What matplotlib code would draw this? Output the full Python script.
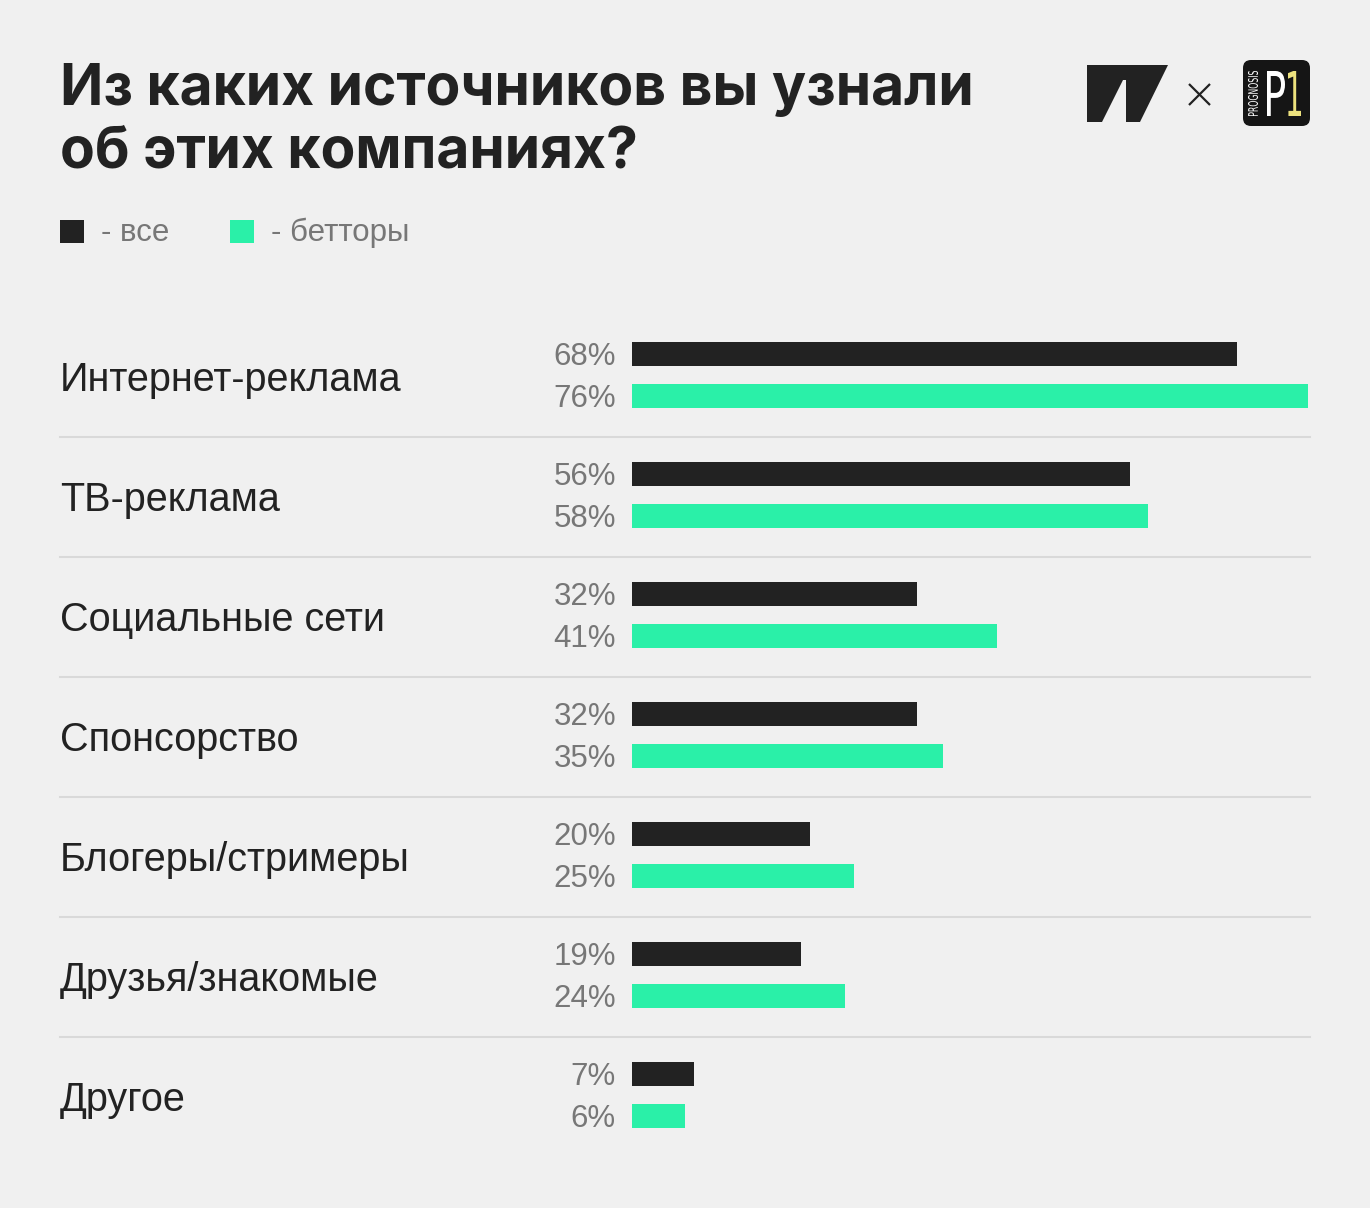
import matplotlib
matplotlib.use('Agg')
import matplotlib.pyplot as plt
from matplotlib.patches import Rectangle, Polygon, FancyBboxPatch, PathPatch
from matplotlib.textpath import TextPath
from matplotlib.font_manager import FontProperties
from matplotlib.transforms import Affine2D, blended_transform_factory
import numpy as np

categories = ["Интернет-реклама", "ТВ-реклама", "Социальные сети", "Спонсорство",
              "Блогеры/стримеры", "Друзья/знакомые", "Другое"]
all_values = [68, 56, 32, 32, 20, 19, 7]
bettor_values = [76, 58, 41, 35, 25, 24, 6]
title_lines = ["Из каких источников вы узнали", "об этих компаниях?"]
legend_labels = ["- все", "- бетторы"]

W, H = 1370, 1208
BG = '#f0f0f0'; DARK = '#222222'; GREEN = '#2af0a8'; GREY = '#777777'; SEP = '#d9d9d9'
BODY = ['Liberation Sans', 'DejaVu Sans']

plt.rcParams['font.family'] = ['Inter', 'DejaVu Sans']
fig = plt.figure(figsize=(W / 100, H / 100), dpi=100, facecolor=BG)
ov = fig.add_axes([0, 0, 1, 1])
ov.set_xlim(0, W); ov.set_ylim(H, 0); ov.axis('off')

# Title
ov.text(60, 105, title_lines[0], fontsize=41, fontweight='bold', color=DARK, va='baseline')
ov.text(60, 168, title_lines[1], fontsize=41, fontweight='bold', color=DARK, va='baseline')

# Legend
for lx, col, lab in [(60, DARK, legend_labels[0]), (230, GREEN, legend_labels[1])]:
    ov.add_patch(Rectangle((lx, 220), 24, 23, color=col, lw=0))
    ov.text(lx + 41, 241, lab, fontsize=22.5, color=GREY, va='baseline', family=BODY)

# Logo 1
ov.add_patch(Polygon([(1087, 65), (1168, 65), (1140, 122), (1126, 122), (1126, 80),
                      (1123, 80), (1102, 122), (1087, 122)], closed=True, color=DARK, lw=0))
# times sign
ov.plot([1189, 1210], [84, 105], color=DARK, lw=1.6, solid_capstyle='butt')
ov.plot([1189, 1210], [105, 84], color=DARK, lw=1.6, solid_capstyle='butt')
# Logo 2
ov.add_patch(FancyBboxPatch((1243 + 8, 60 + 8), 67 - 16, 66 - 16,
                            boxstyle='round,pad=8', color='#151515', lw=0))


def fit_text(s, bx0, by0, bx1, by1, color, rotate=False, family='DejaVu Sans', weight='normal'):
    tp = TextPath((0, 0), s, size=10, prop=FontProperties(family=family, weight=weight))
    ext = tp.get_extents()
    norm = Affine2D().translate(-ext.x0, -ext.y0).scale(1 / ext.width, 1 / ext.height)
    w, h = bx1 - bx0, by1 - by0
    if rotate:
        place = Affine2D.from_values(0, -h, -w, 0, bx1, by1)
    else:
        place = Affine2D.from_values(w, 0, 0, -h, bx0, by1)
    ov.add_patch(PathPatch(tp, transform=norm + place + ov.transData, color=color, lw=0))


fit_text("PROGNOSIS", 1248, 71, 1258, 116, 'white', rotate=True)
fit_text("P", 1267, 71, 1285, 116, 'white')
fit_text("1", 1288, 71, 1301, 116, '#ede27e')

# Bars
x0, x1 = 632, 1308
top, bot = 315, 1155
ax = fig.add_axes([x0 / W, 1 - bot / H, (x1 - x0) / W, (bot - top) / H])
ax.patch.set_alpha(0)
n = len(categories)
y = np.arange(n)
ax.set_xlim(0, max(bettor_values))
ax.set_ylim(n - 0.5, -0.5)
off, bh = 0.175, 0.2
ax.barh(y - off, all_values, height=bh, color=DARK, lw=0)
ax.barh(y + off, bettor_values, height=bh, color=GREEN, lw=0)
ax.axis('off')

bl = blended_transform_factory(fig.transFigure, ax.transData)
for i, cat in enumerate(categories):
    ax.text(60 / W, i + 16 / 120, cat, transform=bl, fontsize=28.5, color=DARK,
            va='baseline', family=BODY)
    ax.text(616 / W, i - off + 0.092, f"{all_values[i]}%", transform=bl, fontsize=22.5,
            color=GREY, ha='right', va='baseline', family=BODY)
    ax.text(616 / W, i + off + 0.092, f"{bettor_values[i]}%", transform=bl, fontsize=22.5,
            color=GREY, ha='right', va='baseline', family=BODY)
    if i < n - 1:
        ax.plot([60 / W, 1310 / W], [i + 0.5 + 2 / 120] * 2, transform=bl, color=SEP,
                lw=1.5, clip_on=False)

fig.savefig('out.png', dpi=100, facecolor=BG)
